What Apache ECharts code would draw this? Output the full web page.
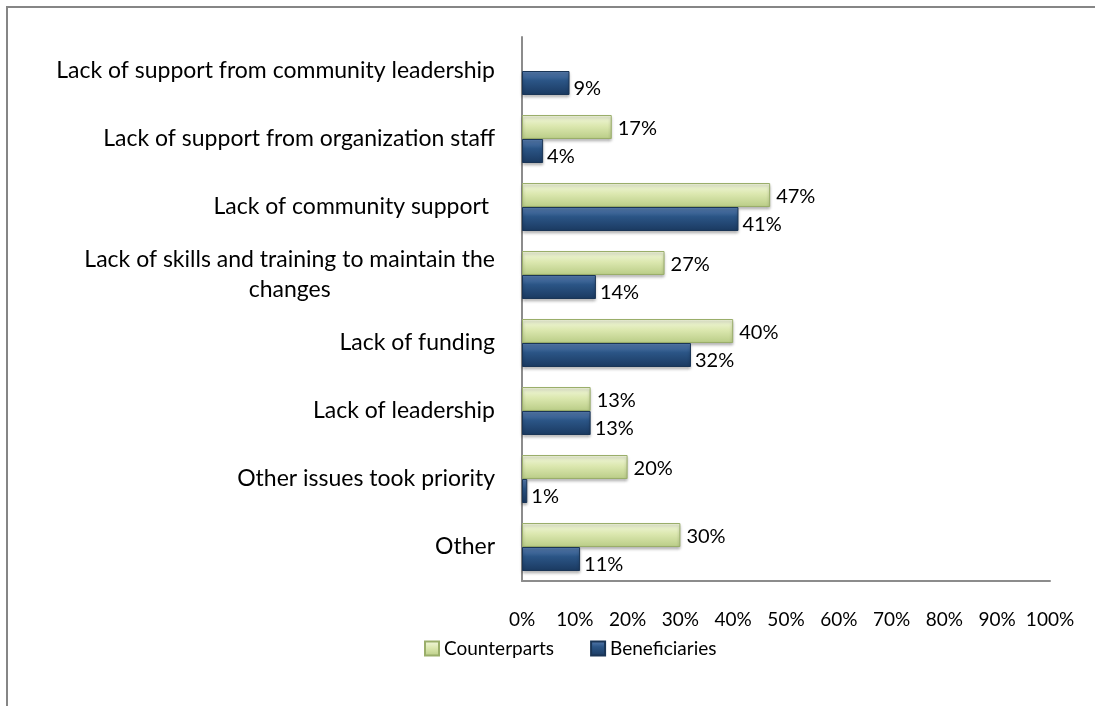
<!DOCTYPE html>
<html>
<head>
<meta charset="utf-8">
<script src="https://cdn.jsdelivr.net/npm/echarts@6/dist/echarts.min.js"></script>
<style>
  html, body { margin: 0; padding: 0; background: #fff; }
  #chart { width: 1095px; height: 706px; }
</style>
</head>
<body>
<div id="chart"></div>
<script>
// categories top to bottom
const categories = [
  'Lack of support from community leadership',
  'Lack of support from organization staff',
  'Lack of community support ',
  'Lack of skills and training to maintain the\nchanges',
  'Lack of funding',
  'Lack of leadership',
  'Other issues took priority',
  'Other'
]
const counterparts = [null, 17, 47, 27, 40, 13, 20, 30]
const beneficiaries = [9, 4, 41, 14, 32, 13, 1, 11]
const xTicks = [0, 10, 20, 30, 40, 50, 60, 70, 80, 90, 100]

const FONT = 'Lato'
const chart = echarts.init(document.getElementById('chart'))

const greenFill = new echarts.graphic.LinearGradient(0, 0, 0, 1, [
  { offset: 0, color: '#f3f8e0' },
  { offset: 0.45, color: '#dce8b0' },
  { offset: 1, color: '#b9cc86' }
])
const navyFill = new echarts.graphic.LinearGradient(0, 0, 0, 1, [
  { offset: 0, color: '#5a7fb2' },
  { offset: 0.4, color: '#2b5586' },
  { offset: 1, color: '#1a3960' }
])

const option = {
  animation: false,
  graphic: [{
    type: 'rect',
    shape: { x: 7, y: 7, width: 1300, height: 900 },
    style: { fill: 'none', stroke: '#868686', lineWidth: 2 },
    silent: true
  }],
  legend: {
    left: 419,
    top: 634,
    itemWidth: 14,
    itemHeight: 14,
    itemGap: 36,
    icon: 'rect',
    textStyle: { fontFamily: FONT, fontSize: 19, color: '#000' },
    data: ['Counterparts', 'Beneficiaries']
  },
  grid: { left: 522, right: 45, top: 37, bottom: 125 },
  xAxis: {
    type: 'value',
    min: 0,
    max: 100,
    interval: 10,
    axisLine: { show: true, lineStyle: { color: '#8c8c8c', width: 2 } },
    axisTick: { show: false },
    splitLine: { show: false },
    axisLabel: {
      margin: 29,
      fontFamily: FONT,
      fontSize: 19,
      color: '#000',
      formatter: v => xTicks.indexOf(v) >= 0 ? v + '%' : ''
    }
  },
  yAxis: {
    type: 'category',
    inverse: true,
    data: categories,
    axisLine: { show: true, lineStyle: { color: '#8c8c8c', width: 2 } },
    axisTick: { show: false },
    axisLabel: {
      margin: 27,
      fontFamily: FONT,
      fontSize: 23,
      color: '#000',
      lineHeight: 30,
      formatter: v => v.split('\n').map(s => '{c|' + s + '}').join('\n'),
      rich: { c: { align: 'center', fontFamily: FONT, fontSize: 23, color: '#000', lineHeight: 30 } }
    }
  },
  series: [
    {
      name: 'Counterparts',
      type: 'bar',
      data: counterparts,
      barWidth: 24,
      barGap: '0%',
      itemStyle: {
        color: greenFill,
        borderColor: '#9aae6a',
        borderWidth: 1,
        shadowColor: 'rgba(0,0,0,0.3)',
        shadowBlur: 3,
        shadowOffsetY: 2
      },
      label: {
        show: true,
        position: 'right',
        distance: 6,
        offset: [0, 2],
        formatter: p => p.value + '%',
        fontFamily: FONT,
        fontSize: 20,
        color: '#000'
      }
    },
    {
      name: 'Beneficiaries',
      type: 'bar',
      data: beneficiaries,
      barWidth: 24,
      barGap: '0%',
      itemStyle: {
        color: navyFill,
        borderColor: '#1a3556',
        borderWidth: 1,
        shadowColor: 'rgba(0,0,0,0.3)',
        shadowBlur: 3,
        shadowOffsetY: 2
      },
      label: {
        show: true,
        position: 'right',
        distance: 4,
        offset: [0, 6],
        formatter: p => p.value + '%',
        fontFamily: FONT,
        fontSize: 20,
        color: '#000'
      }
    }
  ]
}

chart.setOption(option)
</script>
</body>
</html>
